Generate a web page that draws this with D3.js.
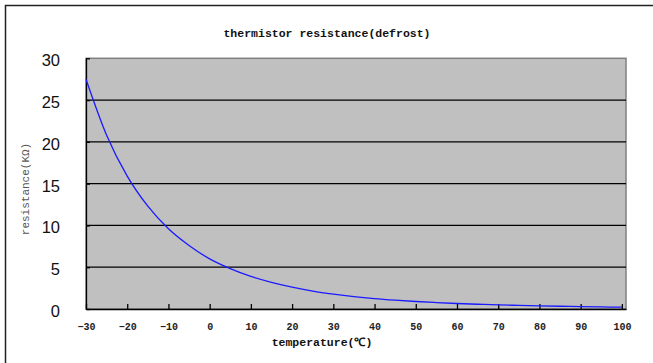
<!DOCTYPE html>
<html><head><meta charset="utf-8">
<script src="https://cdn.jsdelivr.net/npm/d3@7"></script>
<style>body{margin:0;background:#fff}svg{display:block}</style>
</head><body>
<script>
const temperatures = [-30,-25,-20,-15,-10,-5,0,5,10,15,20,25,30,35,40,45,50,55,60,65,70,75,80,85,90,95,100];
const resistance = [27.5,20.8,15.9,12.3,9.6,7.6,6.0,4.83,3.90,3.18,2.61,2.15,1.79,1.49,1.25,1.06,0.90,0.77,0.66,0.57,0.49,0.43,0.37,0.33,0.29,0.25,0.22];
const xTicks = [-30,-20,-10,0,10,20,30,40,50,60,70,80,90,100];
const yTicks = [0,5,10,15,20,25,30];
const title = "thermistor resistance(defrost)";
const xTitle = "temperature(℃)";
const yTitle = "resistance(KΩ)";

const W = 653, H = 363;
const svg = d3.select("body").append("svg").attr("width", W).attr("height", H);

// outer frame (left/top visible)
svg.append("rect").attr("x",5.5).attr("y",5.5).attr("width",W+10).attr("height",H+10)
  .attr("fill","none").attr("stroke","#222").attr("stroke-width",1.5);

const L = 86, R = 626, T = 58.3, B = 309;
const x = d3.scaleLinear().domain([-30, 101]).range([L, R]);
const y = d3.scaleLinear().domain([0, 30]).range([B, T]);

svg.append("rect").attr("x",L).attr("y",T).attr("width",R-L).attr("height",B-T)
  .attr("fill","#c0c0c0").attr("stroke","#808080").attr("stroke-width",1.5);

// gridlines
svg.append("g").selectAll("line").data(yTicks.filter(d=>d>0 && d<30)).join("line")
  .attr("x1",L).attr("x2",R).attr("y1",d=>y(d)).attr("y2",d=>y(d))
  .attr("stroke","#000").attr("stroke-width",1.3);

// y axis
const yAxis = svg.append("g").attr("transform",`translate(${L},0)`)
  .call(d3.axisLeft(y).tickValues(yTicks).tickSizeInner(-4).tickSizeOuter(0).tickPadding(26));
yAxis.select(".domain").attr("stroke","#000").attr("stroke-width",1.3);
yAxis.selectAll("line").attr("stroke","#000").attr("stroke-width",1.3);
yAxis.selectAll("text").attr("font-family","Liberation Sans, Arial, sans-serif")
  .attr("font-size",16.5).attr("fill","#111").attr("dy","0.45em");

// x axis
const xAxis = svg.append("g").attr("transform",`translate(0,${B})`)
  .call(d3.axisBottom(x).tickValues(xTicks).tickSizeInner(-5).tickSizeOuter(0).tickPadding(14));
xAxis.select(".domain").attr("stroke","#000").attr("stroke-width",1.3);
xAxis.selectAll("line").attr("stroke","#000").attr("stroke-width",1.3);
xAxis.selectAll("text").attr("font-family","Liberation Mono, DejaVu Sans Mono, monospace")
  .attr("font-size",10).attr("font-weight","bold").attr("fill","#222");

// line
const line = d3.line().x((d,i)=>x(temperatures[i])).y(d=>y(d)).curve(d3.curveMonotoneX);
svg.append("path").datum(resistance).attr("d",line)
  .attr("fill","none").attr("stroke","#1a1aff").attr("stroke-width",1.3);

// titles
svg.append("text").attr("x",327).attr("y",37).attr("text-anchor","middle")
  .attr("font-family","Liberation Mono, DejaVu Sans Mono, monospace").attr("font-size",11.5)
  .attr("font-weight","bold").attr("fill","#111").text(title);
svg.append("text").attr("x",322).attr("y",346).attr("text-anchor","middle")
  .attr("font-family","Liberation Mono, DejaVu Sans Mono, monospace").attr("font-size",11.5)
  .attr("font-weight","bold").attr("fill","#111").text(xTitle);
svg.append("text").attr("transform","translate(29,189) rotate(-90)").attr("text-anchor","middle")
  .attr("font-family","Liberation Mono, DejaVu Sans Mono, monospace").attr("font-size",11)
  .attr("fill","#555").text(yTitle);
</script>
</body></html>
